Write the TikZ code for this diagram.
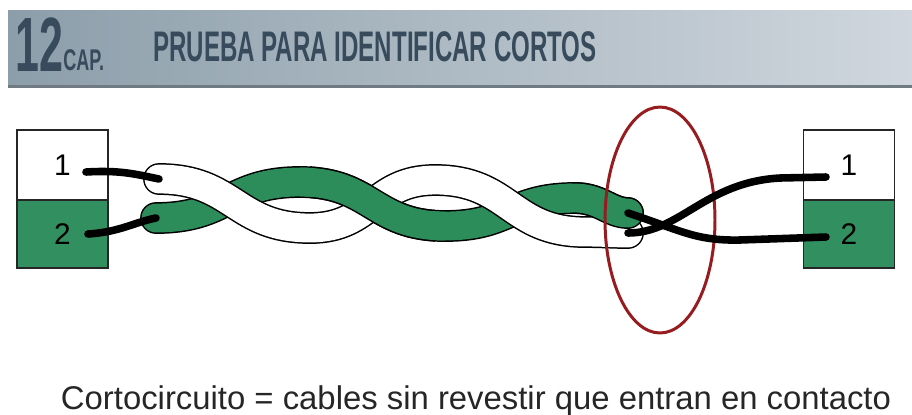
\documentclass[tikz,border=0pt]{standalone}
\usepackage{fontspec}
\setmainfont{Liberation Sans}
\usepackage{graphicx}
\usetikzlibrary{shapes.geometric}

\definecolor{cablegreen}{RGB}{44,140,90}
\definecolor{boxgreen}{RGB}{50,143,95}
\definecolor{shortred}{RGB}{150,28,32}
\definecolor{headdark}{RGB}{55,75,92}
\definecolor{headleft}{RGB}{140,158,170}
\definecolor{headright}{RGB}{208,215,222}
\definecolor{headline}{RGB}{112,122,130}

\tikzset{
  headtext/.style={inner sep=0pt, text=headdark, font=\bfseries},
  cell/.style={draw=black!85, line width=0.8pt, minimum width=1.82cm, inner sep=0pt,
    font=\fontsize{17}{17}\selectfont},
  strand/.style={draw=black, line width=0.85pt, double=#1, double distance=16.4pt, line cap=round},
  strandedge/.style={draw=black, line width=18.1pt, line cap=round},
  strandcore/.style={draw=#1, line width=16.4pt, line cap=round},
  wire/.style={line width=4.3pt, line cap=round, black},
}

\newcommand\greenpath{(G0) .. controls (228,218) and (228,182) .. (G1)
    .. controls (372,182) and (373,226) .. (G2)
    .. controls (510,226) and (510,198) .. (G3)
    .. controls (600,198) and (610,213) .. (G4)}

\begin{document}
\begin{tikzpicture}[x=0.02cm, y=-0.02cm]
  \useasboundingbox (0,0) rectangle (912,414);

  % title bar
  \shade[left color=headleft, right color=headright] (8,10) rectangle (912,85);
  \fill[headline] (8,85) rectangle (912,88);
  \node[headtext, anchor=south west] (capnum) at (15,72) {\resizebox{27.2pt}{30.6pt}{12}};
  \node[headtext, anchor=south west] (captag) at (63,71) {\resizebox{23.2pt}{11.9pt}{CAP.}};
  \node[headtext, anchor=south west] (title) at (153,62) {\resizebox{252.3pt}{17pt}{PRUEBA PARA IDENTIFICAR CORTOS}};

  % terminal blocks
  \foreach \side/\x in {L/62.5, R/849}{
    \node[cell, minimum height=1.4cm] (\side1) at (\x,165) {1};
    \node[cell, fill=boxgreen, minimum height=1.36cm] (\side2) at (\x,234) {2};
  }

  % twisted pair: peaks of each strand
  \coordinate (G0) at (156,218);
  \coordinate (G1) at (300,182);
  \coordinate (G2) at (445,226);
  \coordinate (G3) at (575,198);
  \coordinate (G4) at (628,213);
  \coordinate (W0) at (159,179);
  \coordinate (W1) at (310,228);
  \coordinate (W2) at (435,180);
  \coordinate (W3) at (585,232);
  \coordinate (W4) at (628,233);

  \draw[strand=cablegreen] \greenpath;
  \draw[strand=white] (W0) .. controls (234,179) and (235,228) .. (W1)
    .. controls (372,228) and (373,180) .. (W2)
    .. controls (510,180) and (510,232) .. (W3)
    .. controls (600,232) and (615,233) .. (W4);
  % green on top at the middle crossing and at the far end
  \begin{scope}
    \clip (310,140) rectangle (435,270) (572,140) rectangle (670,270);
    \draw[strandedge] \greenpath;
  \end{scope}
  \begin{scope}
    \clip (300,140) rectangle (445,270) (565,140) rectangle (670,270);
    \draw[strandcore=cablegreen] \greenpath;
  \end{scope}

  % where the bare ends touch
  \node[ellipse, draw=shortred, line width=1.7pt, minimum width=2.2cm, minimum height=4.52cm] (short) at (660,220) {};

  % bare wires
  \coordinate (L1w) at (86,172);
  \coordinate (L2w) at (88,234);
  \coordinate (R1w) at (826,177);
  \coordinate (R2w) at (826,237);
  \draw[wire] (L1w) .. controls (120,170) and (135,174) .. (W0);
  \draw[wire] (L2w) .. controls (120,232) and (135,222) .. (G0);
  \draw[wire] (G4) .. controls (680,230) and (695,241) .. (740,240) -- (R2w);
  \draw[wire] (W4) .. controls (680,233) and (705,182) .. (780,178) -- (R1w);

  \node[anchor=base, font=\fontsize{18.7}{22}\selectfont, text=black!85] (caption) at (476,409)
    {Cortocircuito = cables sin revestir que entran en contacto};
\end{tikzpicture}
\end{document}
